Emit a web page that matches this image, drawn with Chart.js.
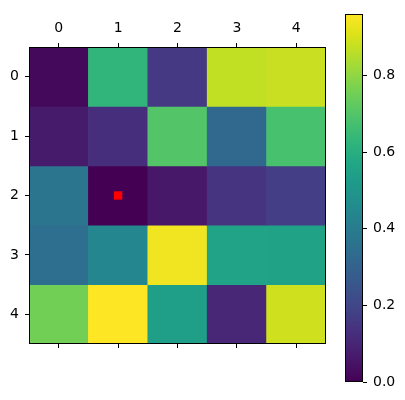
<!DOCTYPE html>
<html>
<head>
<meta charset="utf-8">
<script src="https://cdn.jsdelivr.net/npm/chart.js@4"></script>
<style>
  html, body { margin: 0; padding: 0; background: #fff; }
  #wrap { position: relative; width: 405px; height: 400px; }
  #heat { position: absolute; left: 0; top: 0; }
  #cbar { position: absolute; left: 330px; top: 0; }
</style>
</head>
<body>
<div id="wrap">
  <canvas id="heat" width="335" height="400"></canvas>
  <canvas id="cbar" width="75" height="400"></canvas>
</div>
<script>
// grid labels
const colLabels = ['0', '1', '2', '3', '4'];
const rowLabels = [0, 1, 2, 3, 4];

// cell values, one array per row
const row0 = [0.02, 0.63, 0.16, 0.87, 0.88];
const row1 = [0.07, 0.125, 0.70, 0.32, 0.68];
const row2 = [0.37, 0.00, 0.06, 0.145, 0.175];
const row3 = [0.345, 0.44, 0.94, 0.555, 0.55];
const row4 = [0.755, 0.96, 0.535, 0.105, 0.89];
const rows = [row0, row1, row2, row3, row4];

// red marker (column, row)
const markerX = [1];
const markerY = [2];

// colour bar ticks
const cbarTicks = [0, 0.2, 0.4, 0.6, 0.8];

const allValues = rows.flat();
const vmin = Math.min(...allValues);
const vmax = Math.max(...allValues);

// viridis, sampled every 0.05
const viridis = ['#440154', '#471365', '#482475', '#463480', '#414487', '#3b528b', '#355f8d',
  '#2f6c8e', '#2a788e', '#25848e', '#21918c', '#1e9c89', '#22a884', '#2fb47c', '#44bf70',
  '#5ec962', '#7ad151', '#9bd93c', '#bddf26', '#dfe318', '#fde725'];

function hexToRgb(h) {
  return [parseInt(h.slice(1, 3), 16), parseInt(h.slice(3, 5), 16), parseInt(h.slice(5, 7), 16)];
}

function colorAt(t) {
  t = Math.max(0, Math.min(1, t));
  const pos = t * (viridis.length - 1);
  const i = Math.min(Math.floor(pos), viridis.length - 2);
  const f = pos - i;
  const a = hexToRgb(viridis[i]);
  const b = hexToRgb(viridis[i + 1]);
  const c = a.map((v, k) => Math.round(v + (b[k] - v) * f));
  return `rgb(${c[0]},${c[1]},${c[2]})`;
}

Chart.defaults.font.family = 'DejaVu Sans';
Chart.defaults.font.size = 14;
Chart.defaults.color = '#000';

const framePlugin = {
  id: 'frame',
  afterDraw(chart) {
    const { ctx, chartArea: a } = chart;
    ctx.save();
    ctx.strokeStyle = '#000';
    ctx.lineWidth = 1;
    ctx.strokeRect(Math.round(a.left) + 0.5, Math.round(a.top) + 0.5,
      Math.round(a.right - a.left) - 1, Math.round(a.bottom - a.top) - 1);
    ctx.restore();
  }
};

const tickGrid = {
  drawOnChartArea: false,
  drawTicks: true,
  tickLength: 4,
  tickWidth: 1,
  tickColor: '#000',
  offset: false
};

const cellDatasets = rows.map((vals, r) => ({
  type: 'bar',
  data: vals.map(() => [r - 0.5, r + 0.5]),
  backgroundColor: vals.map(v => colorAt((v - vmin) / (vmax - vmin))),
  borderWidth: 0,
  barPercentage: 1,
  categoryPercentage: 1,
  grouped: false,
  order: 1
}));

new Chart(document.getElementById('heat'), {
  type: 'bar',
  data: {
    labels: colLabels,
    datasets: [{
      type: 'scatter',
      data: markerX.map((x, i) => ({ x: colLabels[x], y: markerY[i] })),
      pointStyle: 'rect',
      pointRadius: 5.9,
      pointBackgroundColor: '#ff0000',
      pointBorderWidth: 0,
      order: 0
    }, ...cellDatasets]
  },
  options: {
    responsive: false,
    animation: false,
    layout: { padding: { left: 0, right: 9, top: 0, bottom: 0 } },
    plugins: { legend: { display: false }, tooltip: { enabled: false } },
    scales: {
      x: {
        type: 'category',
        position: 'top',
        offset: true,
        grid: tickGrid,
        border: { display: false },
        ticks: { padding: 6, maxRotation: 0 },
        afterFit(scale) { scale.height = 47; }
      },
      x2: {
        type: 'category',
        position: 'bottom',
        labels: colLabels,
        offset: true,
        grid: tickGrid,
        border: { display: false },
        ticks: { display: false },
        afterFit(scale) { scale.height = 56; }
      },
      y: {
        type: 'linear',
        reverse: true,
        min: -0.5,
        max: 4.5,
        grid: tickGrid,
        border: { display: false },
        ticks: { padding: 6 },
        afterBuildTicks(scale) { scale.ticks = rowLabels.map(v => ({ value: v })); },
        afterFit(scale) { scale.width = 29; }
      }
    }
  },
  plugins: [framePlugin]
});

new Chart(document.getElementById('cbar'), {
  type: 'bar',
  data: {
    labels: ['cb'],
    datasets: [{
      data: [[vmin, vmax]],
      backgroundColor(ctx) {
        const chart = ctx.chart;
        if (!chart.chartArea) return '#888';
        const ys = chart.scales.y;
        const g = chart.ctx.createLinearGradient(0, ys.getPixelForValue(vmin), 0, ys.getPixelForValue(vmax));
        viridis.forEach((c, i) => g.addColorStop(i / (viridis.length - 1), c));
        return g;
      },
      borderWidth: 0,
      barPercentage: 1,
      categoryPercentage: 1
    }]
  },
  options: {
    responsive: false,
    animation: false,
    layout: { padding: { left: 15, right: 0, top: 11, bottom: 18 } },
    plugins: { legend: { display: false }, tooltip: { enabled: false } },
    scales: {
      x: { display: false, offset: true },
      y: {
        type: 'linear',
        position: 'right',
        min: vmin,
        max: vmax,
        grid: tickGrid,
        border: { display: false },
        ticks: { padding: 6, callback: v => v.toFixed(1) },
        afterBuildTicks(scale) { scale.ticks = cbarTicks.map(v => ({ value: v })); },
        afterFit(scale) { scale.width = 42; }
      }
    }
  },
  plugins: [framePlugin]
});
</script>
</body>
</html>
